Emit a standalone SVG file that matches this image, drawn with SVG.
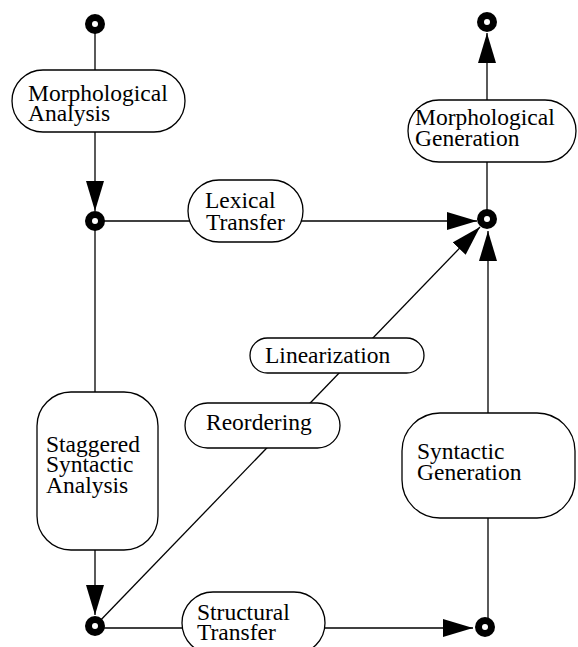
<svg xmlns="http://www.w3.org/2000/svg" width="578" height="647" viewBox="0 0 578 647">
<defs>
<style>
.conn line{stroke:#000;stroke-width:1.3;fill:none}
.box{fill:#fff;stroke:#000;stroke-width:1.3}
.lbl{font-family:"Liberation Serif","Times New Roman",serif;font-size:23.5px;fill:#000}
.dot{fill:#000}
.hole{fill:#fff}
</style>
<marker id="ah" markerUnits="userSpaceOnUse" markerWidth="30" markerHeight="18" refX="30" refY="9" orient="auto">
<path d="M0,0 L30,9 L0,18 z" fill="#000"/>
</marker>
</defs>
<rect width="578" height="647" fill="#fff"/>
<g id="connectors" class="conn">
<line x1="95" y1="24" x2="95" y2="211" marker-end="url(#ah)"/>
<line x1="95" y1="221" x2="477" y2="221" marker-end="url(#ah)"/>
<line x1="487" y1="219" x2="487" y2="33" marker-end="url(#ah)"/>
<line x1="488" y1="626" x2="488" y2="231" marker-end="url(#ah)"/>
<line x1="95" y1="628" x2="473" y2="628" marker-end="url(#ah)"/>
<line x1="95" y1="626" x2="480" y2="227" marker-end="url(#ah)"/>
<line x1="95" y1="221" x2="95" y2="615" marker-end="url(#ah)"/>
</g>
<g id="morphological-analysis">
<rect class="box" x="12" y="70" width="173" height="62" rx="31"/>
<text class="lbl" x="28" y="101">Morphological</text>
<text class="lbl" x="28" y="121">Analysis</text>
</g>
<g id="lexical-transfer">
<rect class="box" x="188" y="180" width="115" height="62" rx="31"/>
<text class="lbl" x="205" y="208">Lexical</text>
<text class="lbl" x="206" y="230">Transfer</text>
</g>
<g id="morphological-generation">
<rect class="box" x="408" y="100" width="168" height="62" rx="31"/>
<text class="lbl" x="415" y="125">Morphological</text>
<text class="lbl" x="415" y="146">Generation</text>
</g>
<g id="linearization">
<rect class="box" x="250" y="338" width="174" height="35" rx="17.5"/>
<text class="lbl" x="265" y="363">Linearization</text>
</g>
<g id="reordering">
<rect class="box" x="185" y="403" width="155" height="45" rx="22.5"/>
<text class="lbl" x="206" y="430">Reordering</text>
</g>
<g id="staggered-syntactic-analysis">
<rect class="box" x="37" y="392" width="121" height="158" rx="34"/>
<text class="lbl" x="46" y="452">Staggered</text>
<text class="lbl" x="46" y="472">Syntactic</text>
<text class="lbl" x="46" y="493">Analysis</text>
</g>
<g id="syntactic-generation">
<rect class="box" x="402" y="413" width="173" height="105" rx="38"/>
<text class="lbl" x="417" y="459">Syntactic</text>
<text class="lbl" x="417" y="480">Generation</text>
</g>
<g id="structural-transfer">
<rect class="box" x="182" y="592" width="143" height="62" rx="31"/>
<text class="lbl" x="197" y="620">Structural</text>
<text class="lbl" x="197" y="640">Transfer</text>
</g>
<g id="state-start">
<circle class="dot" cx="95" cy="24" r="10"/><circle class="hole" cx="95" cy="24" r="3"/>
</g>
<g id="state-analysed">
<circle class="dot" cx="95" cy="221" r="10"/><circle class="hole" cx="95" cy="221" r="3"/>
</g>
<g id="state-parsed">
<circle class="dot" cx="95" cy="626" r="10"/><circle class="hole" cx="95" cy="626" r="3"/>
</g>
<g id="state-end">
<circle class="dot" cx="487" cy="22" r="10"/><circle class="hole" cx="487" cy="22" r="3"/>
</g>
<g id="state-transferred">
<circle class="dot" cx="487" cy="219" r="10"/><circle class="hole" cx="487" cy="219" r="3"/>
</g>
<g id="state-structure">
<circle class="dot" cx="485" cy="627" r="10"/><circle class="hole" cx="485" cy="627" r="3"/>
</g>
</svg>
